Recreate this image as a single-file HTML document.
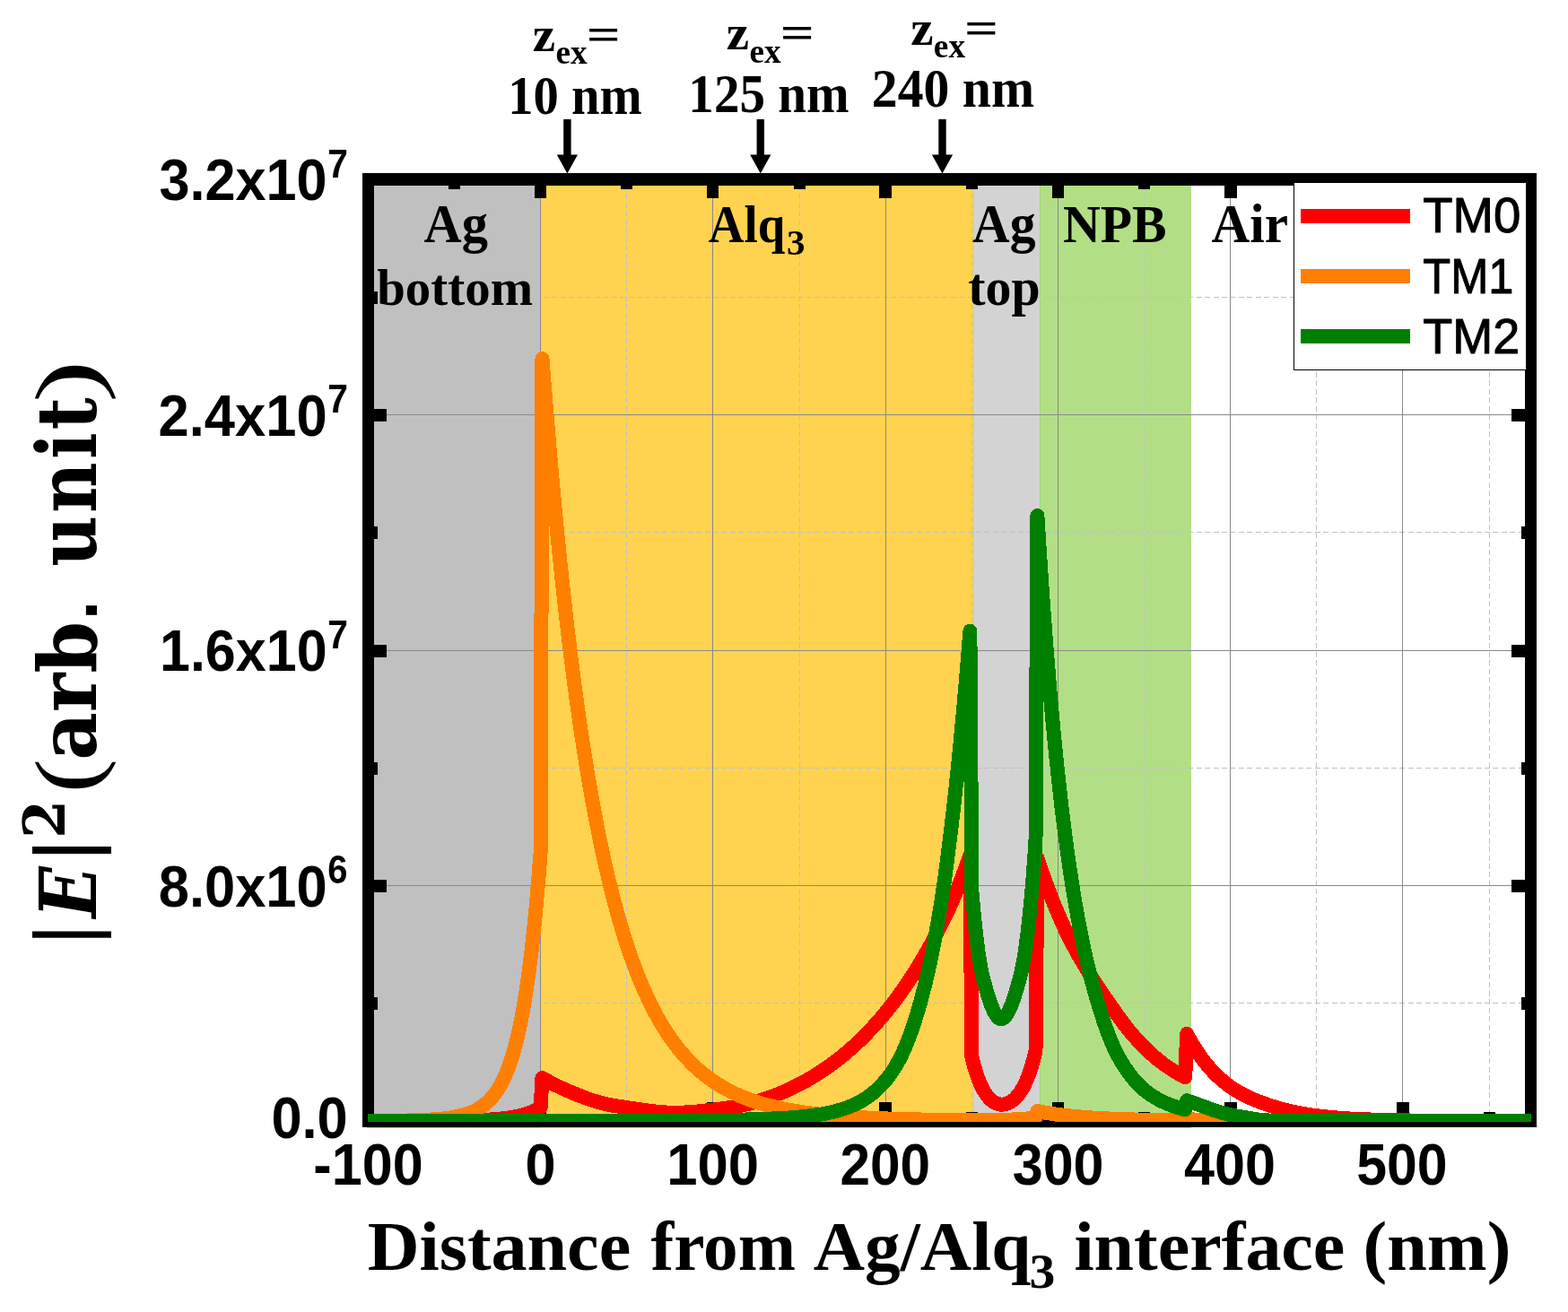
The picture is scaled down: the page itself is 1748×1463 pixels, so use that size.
<!DOCTYPE html>
<html lang="en"><head><meta charset="utf-8"><title>TM mode field profiles</title>
<style>html,body{margin:0;padding:0;background:#fff;overflow:hidden}svg{display:block}</style></head><body>
<svg width="1748" height="1463" viewBox="0 0 1748 1463">
<rect width="1748" height="1463" fill="#fff"/>
<g shape-rendering="crispEdges">
<rect x="409" y="205" width="194" height="1053" fill="#c0c0c0"/>
<rect x="603" y="205" width="482" height="1053" fill="#ffd34f"/>
<rect x="1085" y="205" width="1" height="1053" fill="#d6c9a0"/>
<rect x="1086" y="205" width="73" height="1053" fill="#d3d3d3"/>
<rect x="1159" y="205" width="1" height="1053" fill="#a3d674"/>
<rect x="1160" y="205" width="168" height="1053" fill="#b2df85"/>
</g>
<g shape-rendering="crispEdges" fill="none" stroke-width="1">
<line x1="506.5" y1="207" x2="506.5" y2="1244" stroke="#c0c0c0" stroke-dasharray="6 3.45"/>
<line x1="698.5" y1="207" x2="698.5" y2="1244" stroke="#c0c0c0" stroke-dasharray="6 3.45"/>
<line x1="891.5" y1="207" x2="891.5" y2="1244" stroke="#c0c0c0" stroke-dasharray="6 3.45"/>
<line x1="1083.5" y1="207" x2="1083.5" y2="1244" stroke="#c0c0c0" stroke-dasharray="6 3.45"/>
<line x1="1275.5" y1="207" x2="1275.5" y2="1244" stroke="#c0c0c0" stroke-dasharray="6 3.45"/>
<line x1="1467.5" y1="207" x2="1467.5" y2="1244" stroke="#c0c0c0" stroke-dasharray="6 3.45"/>
<line x1="1660.5" y1="207" x2="1660.5" y2="1244" stroke="#c0c0c0" stroke-dasharray="6 3.45"/>
<line x1="417" y1="1118.5" x2="1700" y2="1118.5" stroke="#c0c0c0" stroke-dasharray="6 3.45"/>
<line x1="417" y1="856.5" x2="1700" y2="856.5" stroke="#c0c0c0" stroke-dasharray="6 3.45"/>
<line x1="417" y1="593.5" x2="1700" y2="593.5" stroke="#c0c0c0" stroke-dasharray="6 3.45"/>
<line x1="417" y1="331.5" x2="1700" y2="331.5" stroke="#c0c0c0" stroke-dasharray="6 3.45"/>
<line x1="602.5" y1="207" x2="602.5" y2="1244" stroke="#888888"/>
<line x1="794.5" y1="207" x2="794.5" y2="1244" stroke="#888888"/>
<line x1="987.5" y1="207" x2="987.5" y2="1244" stroke="#888888"/>
<line x1="1179.5" y1="207" x2="1179.5" y2="1244" stroke="#888888"/>
<line x1="1371.5" y1="207" x2="1371.5" y2="1244" stroke="#888888"/>
<line x1="1563.5" y1="207" x2="1563.5" y2="1244" stroke="#888888"/>
<line x1="417" y1="987.5" x2="1700" y2="987.5" stroke="#888888"/>
<line x1="417" y1="725.5" x2="1700" y2="725.5" stroke="#888888"/>
<line x1="417" y1="462.5" x2="1700" y2="462.5" stroke="#888888"/>
</g>
<g shape-rendering="crispEdges" fill="#000">
<rect x="404" y="193" width="13" height="1064"/>
<rect x="1700" y="193" width="13" height="1064"/>
<rect x="404" y="193" width="1309" height="14"/>
<rect x="404" y="1244" width="1309" height="13"/>
<rect x="596" y="207" width="13" height="14"/>
<rect x="596" y="1229" width="13" height="15"/>
<rect x="788" y="207" width="13" height="14"/>
<rect x="788" y="1229" width="13" height="15"/>
<rect x="980" y="207" width="14" height="14"/>
<rect x="980" y="1229" width="14" height="15"/>
<rect x="1173" y="207" width="13" height="14"/>
<rect x="1173" y="1229" width="13" height="15"/>
<rect x="1365" y="207" width="14" height="14"/>
<rect x="1365" y="1229" width="14" height="15"/>
<rect x="1557" y="207" width="14" height="14"/>
<rect x="1557" y="1229" width="14" height="15"/>
<rect x="500" y="207" width="13" height="4"/>
<rect x="500" y="1240" width="13" height="4"/>
<rect x="692" y="207" width="13" height="4"/>
<rect x="692" y="1240" width="13" height="4"/>
<rect x="885" y="207" width="13" height="4"/>
<rect x="885" y="1240" width="13" height="4"/>
<rect x="1077" y="207" width="13" height="4"/>
<rect x="1077" y="1240" width="13" height="4"/>
<rect x="1269" y="207" width="13" height="4"/>
<rect x="1269" y="1240" width="13" height="4"/>
<rect x="1461" y="207" width="13" height="4"/>
<rect x="1461" y="1240" width="13" height="4"/>
<rect x="1654" y="207" width="13" height="4"/>
<rect x="1654" y="1240" width="13" height="4"/>
<rect x="417" y="981" width="14" height="14"/>
<rect x="1685" y="981" width="15" height="14"/>
<rect x="417" y="719" width="14" height="14"/>
<rect x="1685" y="719" width="15" height="14"/>
<rect x="417" y="456" width="14" height="14"/>
<rect x="1685" y="456" width="15" height="14"/>
<rect x="417" y="1112" width="4" height="14"/>
<rect x="1696" y="1112" width="4" height="14"/>
<rect x="417" y="850" width="4" height="14"/>
<rect x="1696" y="850" width="4" height="14"/>
<rect x="417" y="587" width="4" height="14"/>
<rect x="1696" y="587" width="4" height="14"/>
<rect x="417" y="325" width="4" height="14"/>
<rect x="1696" y="325" width="4" height="14"/>
</g>
<defs><clipPath id="pc"><rect x="410" y="200" width="1297" height="1051"/></clipPath></defs>
<g clip-path="url(#pc)" fill="none" stroke-linejoin="round" stroke-linecap="butt">
<path d="M405.0,1250.0 L460.0,1250.0 L491.0,1249.9 L514.0,1249.6 L531.0,1249.2 L539.0,1248.9 L546.0,1248.5 L553.0,1248.0 L559.0,1247.4 L565.0,1246.7 L570.0,1246.0 L575.0,1245.1 L580.0,1244.1 L583.0,1243.3 L586.0,1242.4 L589.0,1241.4 L592.0,1240.3 L595.0,1239.0 L598.0,1237.6 L600.0,1236.5 L602.6,1234.9 L604.5,1202.0 L611.5,1206.0 L618.5,1209.6 L625.5,1213.0 L633.5,1216.6 L638.5,1218.7 L644.5,1221.1 L653.5,1224.6 L657.5,1226.0 L661.5,1227.3 L668.5,1229.4 L673.5,1230.7 L678.5,1231.8 L683.5,1232.8 L689.5,1233.7 L702.5,1235.6 L717.5,1237.9 L724.5,1238.8 L733.5,1239.8 L738.5,1240.3 L742.5,1240.5 L749.5,1240.8 L756.5,1240.8 L763.5,1240.5 L771.5,1240.0 L781.5,1239.1 L799.5,1237.1 L808.5,1235.9 L816.5,1234.6 L824.5,1233.1 L831.5,1231.5 L839.5,1229.6 L845.5,1227.9 L852.5,1225.6 L861.5,1222.4 L867.5,1220.0 L874.5,1217.1 L879.5,1214.8 L883.5,1212.9 L891.5,1208.9 L899.5,1204.6 L907.5,1199.9 L911.5,1197.4 L915.5,1194.8 L922.5,1190.0 L926.5,1187.2 L930.5,1184.2 L937.5,1178.8 L944.5,1173.0 L951.5,1166.8 L958.5,1160.3 L965.5,1153.3 L972.5,1146.0 L979.5,1138.2 L986.5,1130.0 L992.5,1122.5 L999.5,1113.3 L1005.5,1105.0 L1012.5,1094.8 L1018.5,1085.6 L1022.5,1079.3 L1025.5,1074.3 L1031.5,1064.1 L1037.5,1053.4 L1043.5,1042.2 L1049.5,1030.6 L1054.5,1020.4 L1058.5,1011.8 L1063.5,1000.4 L1068.5,988.3 L1072.5,978.1 L1076.5,967.4 L1081.4,953.6 L1083.3,1178.1 L1084.3,1182.2 L1086.3,1189.8 L1087.3,1193.2 L1089.3,1199.3 L1090.3,1202.1 L1092.3,1207.2 L1093.3,1209.5 L1095.3,1213.6 L1096.3,1215.5 L1098.3,1218.8 L1100.3,1221.7 L1102.3,1224.1 L1104.3,1226.1 L1106.3,1227.8 L1108.3,1229.2 L1110.3,1230.2 L1111.3,1230.6 L1113.3,1231.2 L1115.3,1231.6 L1116.7,1231.6 L1118.7,1231.5 L1120.7,1231.2 L1122.7,1230.6 L1123.7,1230.2 L1125.7,1229.2 L1126.7,1228.7 L1128.7,1227.3 L1129.7,1226.5 L1131.7,1224.7 L1132.7,1223.7 L1134.7,1221.4 L1135.7,1220.2 L1137.7,1217.3 L1138.7,1215.7 L1140.7,1212.3 L1142.7,1208.3 L1143.7,1206.1 L1145.7,1201.3 L1147.7,1195.9 L1148.7,1193.0 L1150.7,1186.5 L1152.7,1179.2 L1154.5,1171.9 L1156.4,956.9 L1160.4,968.8 L1164.4,980.1 L1168.4,991.0 L1172.4,1001.4 L1176.4,1011.3 L1180.4,1020.8 L1184.4,1029.9 L1188.4,1038.6 L1192.4,1046.8 L1196.4,1054.5 L1200.4,1061.9 L1204.4,1069.0 L1209.4,1077.4 L1214.4,1085.6 L1219.4,1093.4 L1225.4,1102.5 L1232.4,1112.8 L1243.4,1128.6 L1248.4,1135.6 L1253.4,1142.4 L1258.4,1148.8 L1262.4,1153.5 L1267.4,1159.2 L1272.4,1164.5 L1278.4,1170.5 L1283.4,1175.2 L1286.4,1177.9 L1289.4,1180.4 L1294.4,1184.4 L1297.4,1186.7 L1300.4,1188.8 L1306.4,1192.8 L1312.4,1196.5 L1315.4,1198.2 L1319.4,1200.3 L1321.2,1201.3 L1323.1,1152.9 L1325.1,1156.7 L1328.1,1162.0 L1330.1,1165.4 L1333.1,1170.3 L1335.1,1173.3 L1338.1,1177.7 L1341.1,1181.8 L1344.1,1185.6 L1346.1,1188.1 L1349.1,1191.6 L1352.1,1194.8 L1355.1,1197.9 L1358.1,1200.8 L1361.1,1203.5 L1364.1,1206.1 L1368.1,1209.3 L1371.1,1211.5 L1374.1,1213.6 L1377.1,1215.5 L1380.1,1217.3 L1383.1,1219.0 L1387.1,1221.1 L1391.1,1223.1 L1395.1,1224.9 L1399.1,1226.6 L1404.1,1228.6 L1409.1,1230.4 L1414.1,1232.2 L1419.1,1233.8 L1424.1,1235.3 L1429.1,1236.8 L1434.1,1238.1 L1442.1,1239.9 L1451.1,1241.7 L1460.1,1243.2 L1470.1,1244.5 L1480.1,1245.6 L1492.1,1246.6 L1505.1,1247.5 L1519.1,1248.2 L1533.1,1248.7 L1547.1,1249.1 L1562.1,1249.4 L1580.1,1249.6 L1629.1,1249.9 L1712.0,1250.0" stroke="#ff0000" stroke-width="14.6"/>
<path d="M405.0,1250.0 L460.0,1250.0 L491.0,1249.9 L514.0,1249.6 L531.0,1249.2 L539.0,1248.9 L546.0,1248.5 L553.0,1248.0 L559.0,1247.4 L565.0,1246.7 L570.0,1246.0 L575.0,1245.1 L580.0,1244.1 L583.0,1243.3 L586.0,1242.4 L589.0,1241.4 L592.0,1240.3 L595.0,1239.0 L598.0,1237.6 L600.0,1236.5 L602.6,1234.9 L604.5,1202.0 L611.5,1206.0 L618.5,1209.6 L625.5,1213.0 L633.5,1216.6 L638.5,1218.7 L644.5,1221.1 L653.5,1224.6 L657.5,1226.0 L661.5,1227.3 L668.5,1229.4 L673.5,1230.7 L678.5,1231.8 L683.5,1232.8 L689.5,1233.7 L702.5,1235.6 L717.5,1237.9 L724.5,1238.8 L733.5,1239.8 L738.5,1240.3 L742.5,1240.5 L749.5,1240.8 L756.5,1240.8 L763.5,1240.5 L771.5,1240.0 L781.5,1239.1 L799.5,1237.1 L808.5,1235.9 L816.5,1234.6 L824.5,1233.1 L831.5,1231.5 L839.5,1229.6 L845.5,1227.9 L852.5,1225.6 L861.5,1222.4 L867.5,1220.0 L874.5,1217.1 L879.5,1214.8 L883.5,1212.9 L891.5,1208.9 L899.5,1204.6 L907.5,1199.9 L911.5,1197.4 L915.5,1194.8 L922.5,1190.0 L926.5,1187.2 L930.5,1184.2 L937.5,1178.8 L944.5,1173.0 L951.5,1166.8 L958.5,1160.3 L965.5,1153.3 L972.5,1146.0 L979.5,1138.2 L986.5,1130.0 L992.5,1122.5 L999.5,1113.3 L1005.5,1105.0 L1012.5,1094.8 L1018.5,1085.6 L1022.5,1079.3 L1025.5,1074.3 L1031.5,1064.1 L1037.5,1053.4 L1043.5,1042.2 L1049.5,1030.6 L1054.5,1020.4 L1058.5,1011.8 L1063.5,1000.4 L1068.5,988.3 L1072.5,978.1 L1076.5,967.4 L1081.4,953.6 L1083.3,1178.1 L1084.3,1182.2 L1086.3,1189.8 L1087.3,1193.2 L1089.3,1199.3 L1090.3,1202.1 L1092.3,1207.2 L1093.3,1209.5 L1095.3,1213.6 L1096.3,1215.5 L1098.3,1218.8 L1100.3,1221.7 L1102.3,1224.1 L1104.3,1226.1 L1106.3,1227.8 L1108.3,1229.2 L1110.3,1230.2 L1111.3,1230.6 L1113.3,1231.2 L1115.3,1231.6 L1116.7,1231.6 L1118.7,1231.5 L1120.7,1231.2 L1122.7,1230.6 L1123.7,1230.2 L1125.7,1229.2 L1126.7,1228.7 L1128.7,1227.3 L1129.7,1226.5 L1131.7,1224.7 L1132.7,1223.7 L1134.7,1221.4 L1135.7,1220.2 L1137.7,1217.3 L1138.7,1215.7 L1140.7,1212.3 L1142.7,1208.3 L1143.7,1206.1 L1145.7,1201.3 L1147.7,1195.9 L1148.7,1193.0 L1150.7,1186.5 L1152.7,1179.2 L1154.5,1171.9 L1156.4,956.9 L1160.4,968.8 L1164.4,980.1 L1168.4,991.0 L1172.4,1001.4 L1176.4,1011.3 L1180.4,1020.8 L1184.4,1029.9 L1188.4,1038.6 L1192.4,1046.8 L1196.4,1054.5 L1200.4,1061.9 L1204.4,1069.0 L1209.4,1077.4 L1214.4,1085.6 L1219.4,1093.4 L1225.4,1102.5 L1232.4,1112.8 L1243.4,1128.6 L1248.4,1135.6 L1253.4,1142.4 L1258.4,1148.8 L1262.4,1153.5 L1267.4,1159.2 L1272.4,1164.5 L1278.4,1170.5 L1283.4,1175.2 L1286.4,1177.9 L1289.4,1180.4 L1294.4,1184.4 L1297.4,1186.7 L1300.4,1188.8 L1306.4,1192.8 L1312.4,1196.5 L1315.4,1198.2 L1319.4,1200.3 L1321.2,1201.3 L1323.1,1152.9 L1325.1,1156.7 L1328.1,1162.0 L1330.1,1165.4 L1333.1,1170.3 L1335.1,1173.3 L1338.1,1177.7 L1341.1,1181.8 L1344.1,1185.6 L1346.1,1188.1 L1349.1,1191.6 L1352.1,1194.8 L1355.1,1197.9 L1358.1,1200.8 L1361.1,1203.5 L1364.1,1206.1 L1368.1,1209.3 L1371.1,1211.5 L1374.1,1213.6 L1377.1,1215.5 L1380.1,1217.3 L1383.1,1219.0 L1387.1,1221.1 L1391.1,1223.1 L1395.1,1224.9 L1399.1,1226.6 L1404.1,1228.6 L1409.1,1230.4 L1414.1,1232.2 L1419.1,1233.8 L1424.1,1235.3 L1429.1,1236.8 L1434.1,1238.1 L1442.1,1239.9 L1451.1,1241.7 L1460.1,1243.2 L1470.1,1244.5 L1480.1,1245.6 L1492.1,1246.6 L1505.1,1247.5 L1519.1,1248.2 L1533.1,1248.7 L1547.1,1249.1 L1562.1,1249.4 L1580.1,1249.6 L1629.1,1249.9 L1712.0,1250.0" stroke="#ff0000" stroke-width="16" shape-rendering="crispEdges"/>
<path d="M405.0,1249.9 L438.0,1249.8 L450.0,1249.6 L460.0,1249.4 L470.0,1249.1 L478.0,1248.7 L485.0,1248.2 L492.0,1247.6 L498.0,1247.0 L504.0,1246.1 L510.0,1245.0 L515.0,1243.8 L520.0,1242.4 L524.0,1241.0 L528.0,1239.3 L530.0,1238.3 L532.0,1237.3 L534.0,1236.1 L536.0,1234.8 L539.0,1232.7 L541.0,1231.1 L543.0,1229.4 L546.0,1226.5 L549.0,1223.1 L552.0,1219.3 L555.0,1214.9 L558.0,1209.8 L560.0,1206.1 L561.0,1204.1 L563.0,1199.8 L565.0,1195.0 L566.0,1192.5 L568.0,1187.1 L570.0,1181.2 L571.0,1178.1 L573.0,1171.3 L575.0,1163.9 L577.0,1155.8 L579.0,1146.9 L581.0,1137.2 L583.0,1126.5 L584.0,1120.9 L586.0,1108.7 L588.0,1095.3 L590.0,1080.7 L591.0,1072.9 L593.0,1056.2 L594.0,1047.2 L596.0,1028.1 L597.0,1017.8 L599.0,995.9 L600.0,984.1 L602.6,951.0 L604.5,400.0 L607.5,438.7 L611.5,487.6 L615.5,533.6 L619.5,576.7 L623.5,617.3 L627.5,655.4 L631.5,691.3 L633.5,708.4 L636.5,733.0 L640.5,764.2 L642.5,779.0 L645.5,800.5 L647.5,814.2 L650.5,834.1 L652.5,846.8 L655.5,865.2 L657.5,876.9 L660.5,893.9 L662.5,904.8 L665.5,920.5 L667.5,930.6 L670.5,945.1 L672.5,954.5 L675.5,967.9 L677.5,976.5 L680.5,989.0 L683.5,1000.8 L686.5,1012.2 L689.5,1023.0 L692.5,1033.3 L695.5,1043.2 L698.5,1052.6 L701.5,1061.6 L704.5,1070.1 L707.5,1078.3 L710.5,1086.1 L713.5,1093.6 L716.5,1100.7 L719.5,1107.4 L723.5,1116.0 L726.5,1122.1 L730.5,1129.8 L733.5,1135.2 L737.5,1142.1 L740.5,1147.0 L744.5,1153.2 L748.5,1159.0 L752.5,1164.5 L756.5,1169.6 L760.5,1174.4 L764.5,1178.9 L769.5,1184.2 L773.5,1188.2 L778.5,1192.8 L782.5,1196.2 L787.5,1200.2 L790.5,1202.4 L794.5,1205.3 L798.5,1207.9 L802.5,1210.4 L806.5,1212.8 L810.5,1215.0 L814.5,1217.1 L818.5,1219.0 L822.5,1220.9 L827.5,1223.0 L831.5,1224.6 L836.5,1226.5 L840.5,1227.9 L845.5,1229.5 L850.5,1231.0 L855.5,1232.4 L860.5,1233.6 L865.5,1234.8 L870.5,1235.9 L876.5,1237.1 L882.5,1238.2 L888.5,1239.2 L894.5,1240.2 L900.5,1241.0 L913.5,1242.6 L920.5,1243.3 L928.5,1244.0 L943.5,1245.2 L960.5,1246.2 L980.5,1247.2 L1002.5,1247.9 L1026.5,1248.5 L1054.5,1249.0 L1081.4,1249.4 L1083.3,1249.2 L1105.3,1249.0 L1120.3,1248.8 L1126.3,1248.6 L1134.3,1248.2 L1143.3,1247.6 L1150.3,1246.9 L1154.5,1246.3 L1156.4,1239.0 L1161.4,1240.0 L1167.4,1241.1 L1173.4,1242.0 L1179.4,1242.9 L1185.4,1243.6 L1192.4,1244.4 L1199.4,1245.1 L1206.4,1245.7 L1214.4,1246.3 L1222.4,1246.8 L1240.4,1247.7 L1260.4,1248.4 L1282.4,1249.0 L1300.4,1249.3 L1321.2,1249.5 L1323.1,1248.0 L1330.1,1248.4 L1338.1,1248.8 L1355.1,1249.3 L1376.1,1249.6 L1402.1,1249.8 L1472.1,1250.0 L1712.0,1250.0" stroke="#ff8000" stroke-width="14.6"/>
<path d="M405.0,1249.9 L438.0,1249.8 L450.0,1249.6 L460.0,1249.4 L470.0,1249.1 L478.0,1248.7 L485.0,1248.2 L492.0,1247.6 L498.0,1247.0 L504.0,1246.1 L510.0,1245.0 L515.0,1243.8 L520.0,1242.4 L524.0,1241.0 L528.0,1239.3 L530.0,1238.3 L532.0,1237.3 L534.0,1236.1 L536.0,1234.8 L539.0,1232.7 L541.0,1231.1 L543.0,1229.4 L546.0,1226.5 L549.0,1223.1 L552.0,1219.3 L555.0,1214.9 L558.0,1209.8 L560.0,1206.1 L561.0,1204.1 L563.0,1199.8 L565.0,1195.0 L566.0,1192.5 L568.0,1187.1 L570.0,1181.2 L571.0,1178.1 L573.0,1171.3 L575.0,1163.9 L577.0,1155.8 L579.0,1146.9 L581.0,1137.2 L583.0,1126.5 L584.0,1120.9 L586.0,1108.7 L588.0,1095.3 L590.0,1080.7 L591.0,1072.9 L593.0,1056.2 L594.0,1047.2 L596.0,1028.1 L597.0,1017.8 L599.0,995.9 L600.0,984.1 L602.6,951.0 L604.5,400.0 L607.5,438.7 L611.5,487.6 L615.5,533.6 L619.5,576.7 L623.5,617.3 L627.5,655.4 L631.5,691.3 L633.5,708.4 L636.5,733.0 L640.5,764.2 L642.5,779.0 L645.5,800.5 L647.5,814.2 L650.5,834.1 L652.5,846.8 L655.5,865.2 L657.5,876.9 L660.5,893.9 L662.5,904.8 L665.5,920.5 L667.5,930.6 L670.5,945.1 L672.5,954.5 L675.5,967.9 L677.5,976.5 L680.5,989.0 L683.5,1000.8 L686.5,1012.2 L689.5,1023.0 L692.5,1033.3 L695.5,1043.2 L698.5,1052.6 L701.5,1061.6 L704.5,1070.1 L707.5,1078.3 L710.5,1086.1 L713.5,1093.6 L716.5,1100.7 L719.5,1107.4 L723.5,1116.0 L726.5,1122.1 L730.5,1129.8 L733.5,1135.2 L737.5,1142.1 L740.5,1147.0 L744.5,1153.2 L748.5,1159.0 L752.5,1164.5 L756.5,1169.6 L760.5,1174.4 L764.5,1178.9 L769.5,1184.2 L773.5,1188.2 L778.5,1192.8 L782.5,1196.2 L787.5,1200.2 L790.5,1202.4 L794.5,1205.3 L798.5,1207.9 L802.5,1210.4 L806.5,1212.8 L810.5,1215.0 L814.5,1217.1 L818.5,1219.0 L822.5,1220.9 L827.5,1223.0 L831.5,1224.6 L836.5,1226.5 L840.5,1227.9 L845.5,1229.5 L850.5,1231.0 L855.5,1232.4 L860.5,1233.6 L865.5,1234.8 L870.5,1235.9 L876.5,1237.1 L882.5,1238.2 L888.5,1239.2 L894.5,1240.2 L900.5,1241.0 L913.5,1242.6 L920.5,1243.3 L928.5,1244.0 L943.5,1245.2 L960.5,1246.2 L980.5,1247.2 L1002.5,1247.9 L1026.5,1248.5 L1054.5,1249.0 L1081.4,1249.4 L1083.3,1249.2 L1105.3,1249.0 L1120.3,1248.8 L1126.3,1248.6 L1134.3,1248.2 L1143.3,1247.6 L1150.3,1246.9 L1154.5,1246.3 L1156.4,1239.0 L1161.4,1240.0 L1167.4,1241.1 L1173.4,1242.0 L1179.4,1242.9 L1185.4,1243.6 L1192.4,1244.4 L1199.4,1245.1 L1206.4,1245.7 L1214.4,1246.3 L1222.4,1246.8 L1240.4,1247.7 L1260.4,1248.4 L1282.4,1249.0 L1300.4,1249.3 L1321.2,1249.5 L1323.1,1248.0 L1330.1,1248.4 L1338.1,1248.8 L1355.1,1249.3 L1376.1,1249.6 L1402.1,1249.8 L1472.1,1250.0 L1712.0,1250.0" stroke="#ff8000" stroke-width="16" shape-rendering="crispEdges"/>
<path d="M405.0,1250.0 L675.0,1249.9 L720.0,1249.8 L751.0,1249.7 L786.0,1249.4 L821.0,1248.8 L835.0,1248.4 L847.0,1248.1 L858.0,1247.6 L868.0,1247.1 L879.0,1246.5 L889.0,1245.7 L898.0,1244.8 L906.0,1243.9 L913.0,1242.9 L920.0,1241.7 L927.0,1240.2 L933.0,1238.7 L939.0,1236.9 L942.0,1235.9 L945.0,1234.9 L950.0,1232.8 L955.0,1230.5 L960.0,1227.9 L964.0,1225.5 L967.0,1223.5 L969.0,1222.1 L973.0,1219.0 L976.0,1216.4 L978.0,1214.6 L981.0,1211.7 L983.0,1209.6 L986.0,1206.2 L988.0,1203.9 L991.0,1200.0 L993.0,1197.3 L995.0,1194.4 L997.0,1191.3 L999.0,1188.0 L1001.0,1184.5 L1003.0,1180.8 L1005.0,1176.8 L1007.0,1172.5 L1009.0,1168.0 L1011.0,1163.2 L1013.0,1158.1 L1015.0,1152.7 L1017.0,1147.0 L1020.0,1137.9 L1022.0,1131.5 L1024.0,1124.8 L1026.0,1117.7 L1028.0,1110.4 L1031.0,1098.7 L1033.0,1090.5 L1035.0,1081.8 L1038.0,1068.0 L1041.0,1053.2 L1044.0,1037.1 L1047.0,1019.9 L1050.0,1001.2 L1053.0,980.9 L1055.0,966.4 L1057.0,951.1 L1060.0,926.8 L1063.0,901.0 L1066.0,873.7 L1069.0,844.5 L1071.0,824.1 L1074.0,791.8 L1076.0,769.2 L1079.0,733.6 L1081.4,703.7 L1083.3,992.7 L1084.3,1004.2 L1086.3,1025.4 L1087.3,1034.9 L1088.3,1043.8 L1089.3,1052.1 L1090.3,1059.7 L1091.3,1066.6 L1092.3,1072.9 L1093.3,1078.6 L1094.3,1083.6 L1095.3,1088.1 L1097.3,1095.8 L1100.3,1106.5 L1102.3,1113.0 L1103.3,1116.1 L1105.3,1121.5 L1106.3,1124.0 L1107.3,1126.3 L1108.3,1128.3 L1109.3,1130.2 L1110.3,1131.8 L1111.3,1133.2 L1112.3,1134.3 L1113.3,1135.2 L1114.3,1135.9 L1115.3,1136.2 L1116.3,1136.3 L1117.3,1136.1 L1118.3,1135.7 L1119.3,1135.0 L1120.3,1134.0 L1121.3,1132.8 L1122.3,1131.4 L1123.3,1129.8 L1124.3,1128.0 L1125.3,1125.9 L1127.3,1121.3 L1128.3,1118.7 L1130.3,1113.0 L1131.3,1109.9 L1133.3,1103.3 L1135.3,1096.3 L1137.3,1089.0 L1138.3,1084.9 L1139.3,1080.3 L1140.3,1075.3 L1141.3,1069.8 L1142.3,1063.7 L1143.3,1057.1 L1145.3,1042.2 L1147.3,1024.8 L1148.3,1015.1 L1150.3,993.5 L1151.3,981.6 L1153.3,955.3 L1154.5,937.9 L1156.4,575.1 L1158.4,607.1 L1160.4,637.6 L1162.4,666.7 L1165.4,707.6 L1167.4,733.3 L1170.4,769.6 L1172.4,792.3 L1175.4,824.4 L1177.4,844.5 L1180.4,872.9 L1183.4,899.3 L1186.4,923.8 L1189.4,946.6 L1192.4,967.8 L1195.4,987.4 L1198.4,1005.7 L1201.4,1022.7 L1203.4,1033.4 L1205.4,1043.6 L1207.4,1053.4 L1209.4,1062.7 L1212.4,1075.7 L1214.4,1083.8 L1216.4,1091.6 L1220.4,1106.3 L1222.4,1113.2 L1225.4,1123.3 L1229.4,1135.9 L1231.4,1141.9 L1233.4,1147.6 L1235.4,1153.0 L1237.4,1158.1 L1240.4,1165.2 L1242.4,1169.6 L1244.4,1173.7 L1246.4,1177.5 L1248.4,1181.1 L1250.4,1184.5 L1253.4,1189.3 L1255.4,1192.3 L1258.4,1196.5 L1261.4,1200.5 L1263.4,1202.9 L1265.4,1205.3 L1268.4,1208.6 L1270.4,1210.6 L1273.4,1213.5 L1275.4,1215.2 L1278.4,1217.6 L1280.4,1219.1 L1283.4,1221.2 L1286.4,1223.1 L1289.4,1224.9 L1292.4,1226.6 L1296.4,1228.6 L1299.4,1229.9 L1303.4,1231.6 L1306.4,1232.7 L1310.4,1234.1 L1315.4,1235.7 L1321.2,1237.2 L1323.1,1227.2 L1328.1,1228.9 L1342.1,1234.0 L1354.1,1238.3 L1360.1,1240.2 L1366.1,1241.9 L1371.1,1243.1 L1376.1,1244.1 L1393.1,1246.9 L1400.1,1248.2 L1405.1,1248.8 L1409.1,1249.2 L1416.1,1249.6 L1422.1,1249.7 L1430.1,1249.8 L1517.1,1249.9 L1712.0,1250.0" stroke="#008000" stroke-width="14.6"/>
<path d="M405.0,1250.0 L675.0,1249.9 L720.0,1249.8 L751.0,1249.7 L786.0,1249.4 L821.0,1248.8 L835.0,1248.4 L847.0,1248.1 L858.0,1247.6 L868.0,1247.1 L879.0,1246.5 L889.0,1245.7 L898.0,1244.8 L906.0,1243.9 L913.0,1242.9 L920.0,1241.7 L927.0,1240.2 L933.0,1238.7 L939.0,1236.9 L942.0,1235.9 L945.0,1234.9 L950.0,1232.8 L955.0,1230.5 L960.0,1227.9 L964.0,1225.5 L967.0,1223.5 L969.0,1222.1 L973.0,1219.0 L976.0,1216.4 L978.0,1214.6 L981.0,1211.7 L983.0,1209.6 L986.0,1206.2 L988.0,1203.9 L991.0,1200.0 L993.0,1197.3 L995.0,1194.4 L997.0,1191.3 L999.0,1188.0 L1001.0,1184.5 L1003.0,1180.8 L1005.0,1176.8 L1007.0,1172.5 L1009.0,1168.0 L1011.0,1163.2 L1013.0,1158.1 L1015.0,1152.7 L1017.0,1147.0 L1020.0,1137.9 L1022.0,1131.5 L1024.0,1124.8 L1026.0,1117.7 L1028.0,1110.4 L1031.0,1098.7 L1033.0,1090.5 L1035.0,1081.8 L1038.0,1068.0 L1041.0,1053.2 L1044.0,1037.1 L1047.0,1019.9 L1050.0,1001.2 L1053.0,980.9 L1055.0,966.4 L1057.0,951.1 L1060.0,926.8 L1063.0,901.0 L1066.0,873.7 L1069.0,844.5 L1071.0,824.1 L1074.0,791.8 L1076.0,769.2 L1079.0,733.6 L1081.4,703.7 L1083.3,992.7 L1084.3,1004.2 L1086.3,1025.4 L1087.3,1034.9 L1088.3,1043.8 L1089.3,1052.1 L1090.3,1059.7 L1091.3,1066.6 L1092.3,1072.9 L1093.3,1078.6 L1094.3,1083.6 L1095.3,1088.1 L1097.3,1095.8 L1100.3,1106.5 L1102.3,1113.0 L1103.3,1116.1 L1105.3,1121.5 L1106.3,1124.0 L1107.3,1126.3 L1108.3,1128.3 L1109.3,1130.2 L1110.3,1131.8 L1111.3,1133.2 L1112.3,1134.3 L1113.3,1135.2 L1114.3,1135.9 L1115.3,1136.2 L1116.3,1136.3 L1117.3,1136.1 L1118.3,1135.7 L1119.3,1135.0 L1120.3,1134.0 L1121.3,1132.8 L1122.3,1131.4 L1123.3,1129.8 L1124.3,1128.0 L1125.3,1125.9 L1127.3,1121.3 L1128.3,1118.7 L1130.3,1113.0 L1131.3,1109.9 L1133.3,1103.3 L1135.3,1096.3 L1137.3,1089.0 L1138.3,1084.9 L1139.3,1080.3 L1140.3,1075.3 L1141.3,1069.8 L1142.3,1063.7 L1143.3,1057.1 L1145.3,1042.2 L1147.3,1024.8 L1148.3,1015.1 L1150.3,993.5 L1151.3,981.6 L1153.3,955.3 L1154.5,937.9 L1156.4,575.1 L1158.4,607.1 L1160.4,637.6 L1162.4,666.7 L1165.4,707.6 L1167.4,733.3 L1170.4,769.6 L1172.4,792.3 L1175.4,824.4 L1177.4,844.5 L1180.4,872.9 L1183.4,899.3 L1186.4,923.8 L1189.4,946.6 L1192.4,967.8 L1195.4,987.4 L1198.4,1005.7 L1201.4,1022.7 L1203.4,1033.4 L1205.4,1043.6 L1207.4,1053.4 L1209.4,1062.7 L1212.4,1075.7 L1214.4,1083.8 L1216.4,1091.6 L1220.4,1106.3 L1222.4,1113.2 L1225.4,1123.3 L1229.4,1135.9 L1231.4,1141.9 L1233.4,1147.6 L1235.4,1153.0 L1237.4,1158.1 L1240.4,1165.2 L1242.4,1169.6 L1244.4,1173.7 L1246.4,1177.5 L1248.4,1181.1 L1250.4,1184.5 L1253.4,1189.3 L1255.4,1192.3 L1258.4,1196.5 L1261.4,1200.5 L1263.4,1202.9 L1265.4,1205.3 L1268.4,1208.6 L1270.4,1210.6 L1273.4,1213.5 L1275.4,1215.2 L1278.4,1217.6 L1280.4,1219.1 L1283.4,1221.2 L1286.4,1223.1 L1289.4,1224.9 L1292.4,1226.6 L1296.4,1228.6 L1299.4,1229.9 L1303.4,1231.6 L1306.4,1232.7 L1310.4,1234.1 L1315.4,1235.7 L1321.2,1237.2 L1323.1,1227.2 L1328.1,1228.9 L1342.1,1234.0 L1354.1,1238.3 L1360.1,1240.2 L1366.1,1241.9 L1371.1,1243.1 L1376.1,1244.1 L1393.1,1246.9 L1400.1,1248.2 L1405.1,1248.8 L1409.1,1249.2 L1416.1,1249.6 L1422.1,1249.7 L1430.1,1249.8 L1517.1,1249.9 L1712.0,1250.0" stroke="#008000" stroke-width="16" shape-rendering="crispEdges"/>
</g>
<g shape-rendering="crispEdges">
<rect x="1442" y="203" width="260" height="210" fill="#000"/>
<rect x="1443" y="204" width="258" height="208" fill="#fff"/>
<rect x="1450" y="233" width="122" height="16" fill="#ff0000"/>
<rect x="1450" y="300" width="122" height="16" fill="#ff8000"/>
<rect x="1450" y="367" width="122" height="16" fill="#008000"/>
</g>
<text transform="translate(593.85,56.50) scale(1.0332,1)" font-family="Liberation Serif, serif" font-weight="bold" font-style="normal" font-size="55.22" fill="#000" xml:space="preserve">z</text>
<text transform="translate(619.56,71.30) scale(1.0028,1)" font-family="Liberation Serif, serif" font-weight="bold" font-style="normal" font-size="37.17" fill="#000" xml:space="preserve">ex</text>
<text transform="translate(653.68,54.95) scale(1.3071,1)" font-family="Liberation Serif, serif" font-weight="bold" font-style="normal" font-size="51.11" fill="#000" xml:space="preserve">=</text>
<text transform="translate(566.27,126.90) scale(0.9279,1)" font-family="Liberation Serif, serif" font-weight="bold" font-style="normal" font-size="61.06" fill="#000" xml:space="preserve">10 nm</text>
<path d="M628.1999999999999,133 h8.4 V172.5 h7.4 L632.4,193.5 L620.8,172.5 h7.4 Z" fill="#000"/>
<text transform="translate(809.85,54.70) scale(1.0332,1)" font-family="Liberation Serif, serif" font-weight="bold" font-style="normal" font-size="55.22" fill="#000" xml:space="preserve">z</text>
<text transform="translate(835.56,69.50) scale(1.0028,1)" font-family="Liberation Serif, serif" font-weight="bold" font-style="normal" font-size="37.17" fill="#000" xml:space="preserve">ex</text>
<text transform="translate(869.68,53.15) scale(1.3071,1)" font-family="Liberation Serif, serif" font-weight="bold" font-style="normal" font-size="51.11" fill="#000" xml:space="preserve">=</text>
<text transform="translate(767.33,125.10) scale(0.9405,1)" font-family="Liberation Serif, serif" font-weight="bold" font-style="normal" font-size="60.76" fill="#000" xml:space="preserve">125 nm</text>
<path d="M843.5999999999999,133 h8.4 V172.5 h7.4 L847.8,193.5 L836.1999999999999,172.5 h7.4 Z" fill="#000"/>
<text transform="translate(1015.15,49.50) scale(1.0332,1)" font-family="Liberation Serif, serif" font-weight="bold" font-style="normal" font-size="55.22" fill="#000" xml:space="preserve">z</text>
<text transform="translate(1040.86,64.30) scale(1.0028,1)" font-family="Liberation Serif, serif" font-weight="bold" font-style="normal" font-size="37.17" fill="#000" xml:space="preserve">ex</text>
<text transform="translate(1074.98,47.95) scale(1.3071,1)" font-family="Liberation Serif, serif" font-weight="bold" font-style="normal" font-size="51.11" fill="#000" xml:space="preserve">=</text>
<text transform="translate(971.79,118.90) scale(0.9549,1)" font-family="Liberation Serif, serif" font-weight="bold" font-style="normal" font-size="60.45" fill="#000" xml:space="preserve">240 nm</text>
<path d="M1046.3,133 h8.4 V172.5 h7.4 L1050.5,193.5 L1038.9,172.5 h7.4 Z" fill="#000"/>
<text transform="translate(472.61,270.20) scale(0.9568,1)" font-family="Liberation Serif, serif" font-weight="bold" font-style="normal" font-size="61.06" fill="#000" xml:space="preserve">Ag</text>
<text transform="translate(420.23,339.60) scale(1.0010,1)" font-family="Liberation Serif, serif" font-weight="bold" font-style="normal" font-size="56.84" fill="#000" xml:space="preserve">bottom</text>
<text transform="translate(789.83,270.20) scale(0.9203,1)" font-family="Liberation Serif, serif" font-weight="bold" font-style="normal" font-size="59.70" fill="#000" xml:space="preserve">Alq</text>
<text transform="translate(876.99,284.30) scale(1.0304,1)" font-family="Liberation Serif, serif" font-weight="bold" font-style="normal" font-size="39.95" fill="#000" xml:space="preserve">3</text>
<text transform="translate(1084.12,270.20) scale(0.9446,1)" font-family="Liberation Serif, serif" font-weight="bold" font-style="normal" font-size="61.06" fill="#000" xml:space="preserve">Ag</text>
<text transform="translate(1079.33,339.60) scale(0.9789,1)" font-family="Liberation Serif, serif" font-weight="bold" font-style="normal" font-size="59.15" fill="#000" xml:space="preserve">top</text>
<text transform="translate(1184.94,270.20) scale(0.9708,1)" font-family="Liberation Serif, serif" font-weight="bold" font-style="normal" font-size="59.54" fill="#000" xml:space="preserve">NPB</text>
<text transform="translate(1350.50,270.20) scale(0.9722,1)" font-family="Liberation Serif, serif" font-weight="bold" font-style="normal" font-size="61.06" fill="#000" xml:space="preserve">Air</text>
<text transform="translate(1586.21,259.20) scale(0.9827,1)" font-family="Liberation Sans, sans-serif" font-weight="normal" font-style="normal" font-size="55.51" fill="#000" xml:space="preserve" stroke="#000" stroke-width="1.0" stroke-linejoin="round">TM0</text>
<text transform="translate(1586.29,326.50) scale(0.9033,1)" font-family="Liberation Sans, sans-serif" font-weight="normal" font-style="normal" font-size="55.94" fill="#000" xml:space="preserve" stroke="#000" stroke-width="1.0" stroke-linejoin="round">TM1</text>
<text transform="translate(1586.22,393.50) scale(0.9660,1)" font-family="Liberation Sans, sans-serif" font-weight="normal" font-style="normal" font-size="55.94" fill="#000" xml:space="preserve" stroke="#000" stroke-width="1.0" stroke-linejoin="round">TM2</text>
<text transform="translate(177.38,223.20) scale(0.9546,1)" font-family="Liberation Sans, sans-serif" font-weight="bold" font-style="normal" font-size="64.14" fill="#000" xml:space="preserve">3.2x10</text>
<text transform="translate(365.17,197.50) scale(0.9347,1)" font-family="Liberation Sans, sans-serif" font-weight="bold" font-style="normal" font-size="43.62" fill="#000" xml:space="preserve">7</text>
<text transform="translate(176.55,485.90) scale(0.9589,1)" font-family="Liberation Sans, sans-serif" font-weight="bold" font-style="normal" font-size="64.14" fill="#000" xml:space="preserve">2.4x10</text>
<text transform="translate(365.17,460.20) scale(0.9347,1)" font-family="Liberation Sans, sans-serif" font-weight="bold" font-style="normal" font-size="43.62" fill="#000" xml:space="preserve">7</text>
<text transform="translate(177.94,748.30) scale(0.9517,1)" font-family="Liberation Sans, sans-serif" font-weight="bold" font-style="normal" font-size="64.14" fill="#000" xml:space="preserve">1.6x10</text>
<text transform="translate(365.17,722.60) scale(0.9347,1)" font-family="Liberation Sans, sans-serif" font-weight="bold" font-style="normal" font-size="43.62" fill="#000" xml:space="preserve">7</text>
<text transform="translate(176.76,1011.10) scale(0.9578,1)" font-family="Liberation Sans, sans-serif" font-weight="bold" font-style="normal" font-size="64.14" fill="#000" xml:space="preserve">8.0x10</text>
<text transform="translate(365.34,985.40) scale(0.9154,1)" font-family="Liberation Sans, sans-serif" font-weight="bold" font-style="normal" font-size="43.62" fill="#000" xml:space="preserve">6</text>
<text transform="translate(302.45,1269.10) scale(0.9504,1)" font-family="Liberation Sans, sans-serif" font-weight="bold" font-style="normal" font-size="64.57" fill="#000" xml:space="preserve">0.0</text>
<text transform="translate(349.36,1320.70) scale(0.9511,1)" font-family="Liberation Sans, sans-serif" font-weight="bold" font-style="normal" font-size="64.29" fill="#000" xml:space="preserve">-100</text>
<text transform="translate(585.55,1320.70) scale(0.9528,1)" font-family="Liberation Sans, sans-serif" font-weight="bold" font-style="normal" font-size="64.29" fill="#000" xml:space="preserve">0</text>
<text transform="translate(743.20,1320.70) scale(0.9581,1)" font-family="Liberation Sans, sans-serif" font-weight="bold" font-style="normal" font-size="64.29" fill="#000" xml:space="preserve">100</text>
<text transform="translate(936.39,1320.70) scale(0.9392,1)" font-family="Liberation Sans, sans-serif" font-weight="bold" font-style="normal" font-size="64.29" fill="#000" xml:space="preserve">200</text>
<text transform="translate(1128.78,1320.70) scale(0.9488,1)" font-family="Liberation Sans, sans-serif" font-weight="bold" font-style="normal" font-size="64.29" fill="#000" xml:space="preserve">300</text>
<text transform="translate(1320.09,1320.70) scale(0.9507,1)" font-family="Liberation Sans, sans-serif" font-weight="bold" font-style="normal" font-size="64.29" fill="#000" xml:space="preserve">400</text>
<text transform="translate(1512.18,1320.70) scale(0.9460,1)" font-family="Liberation Sans, sans-serif" font-weight="bold" font-style="normal" font-size="64.29" fill="#000" xml:space="preserve">500</text>
<text transform="translate(409.67,1416.40) scale(1.0112,1)" font-family="Liberation Serif, serif" font-weight="bold" font-style="normal" font-size="79.19" fill="#000" xml:space="preserve">Distance</text>
<text transform="translate(725.49,1416.40) scale(0.9749,1)" font-family="Liberation Serif, serif" font-weight="bold" font-style="normal" font-size="79.19" fill="#000" xml:space="preserve">from</text>
<text transform="translate(906.67,1416.40) scale(1.0029,1)" font-family="Liberation Serif, serif" font-weight="bold" font-style="normal" font-size="79.19" fill="#000" xml:space="preserve">Ag/Alq</text>
<text transform="translate(1147.59,1435.56) scale(1.0639,1)" font-family="Liberation Serif, serif" font-weight="bold" font-style="normal" font-size="54.21" fill="#000" xml:space="preserve">3</text>
<text transform="translate(1197.40,1416.40) scale(1.0103,1)" font-family="Liberation Serif, serif" font-weight="bold" font-style="normal" font-size="79.19" fill="#000" xml:space="preserve">interface</text>
<text transform="translate(1519.52,1416.40) scale(1.0128,1)" font-family="Liberation Serif, serif" font-weight="bold" font-style="normal" font-size="79.19" fill="#000" xml:space="preserve">(nm)</text>
<text transform="translate(103.22,1054.75) rotate(-90) scale(0.7833,1)" font-family="DejaVu Serif, serif" font-weight="bold" font-style="normal" font-size="88.21" fill="#000" xml:space="preserve">|</text>
<text transform="translate(107.40,1023.45) rotate(-90) scale(0.8469,1)" font-family="DejaVu Serif, serif" font-weight="bold" font-style="italic" font-size="88.63" fill="#000" xml:space="preserve">E</text>
<text transform="translate(103.22,961.87) rotate(-90) scale(0.8657,1)" font-family="DejaVu Serif, serif" font-weight="bold" font-style="normal" font-size="88.21" fill="#000" xml:space="preserve">|</text>
<text transform="translate(71.50,934.79) rotate(-90) scale(0.9512,1)" font-family="DejaVu Serif, serif" font-weight="bold" font-style="normal" font-size="64.44" fill="#000" xml:space="preserve">2</text>
<text transform="translate(107.75,884.18) rotate(-90) scale(1.1602,1)" font-family="Liberation Serif, serif" font-weight="normal" font-style="normal" font-size="99.12" fill="#000" xml:space="preserve">(</text>
<text transform="translate(107.40,847.81) rotate(-90) scale(0.9203,1)" font-family="DejaVu Serif, serif" font-weight="bold" font-style="normal" font-size="89.81" fill="#000" xml:space="preserve">arb</text>
<text transform="translate(108.10,691.96) rotate(-90) scale(0.9354,1)" font-family="DejaVu Sans, sans-serif" font-weight="bold" font-style="normal" font-size="64.74" fill="#000" xml:space="preserve">.</text>
<text transform="translate(107.40,631.86) rotate(-90) scale(0.8456,1)" font-family="DejaVu Serif, serif" font-weight="bold" font-style="normal" font-size="92.12" letter-spacing="3.83" fill="#000" xml:space="preserve">unit</text>
<text transform="translate(107.75,448.88) rotate(-90) scale(1.4396,1)" font-family="Liberation Serif, serif" font-weight="normal" font-style="normal" font-size="99.12" fill="#000" xml:space="preserve">)</text>
</svg></body></html>
